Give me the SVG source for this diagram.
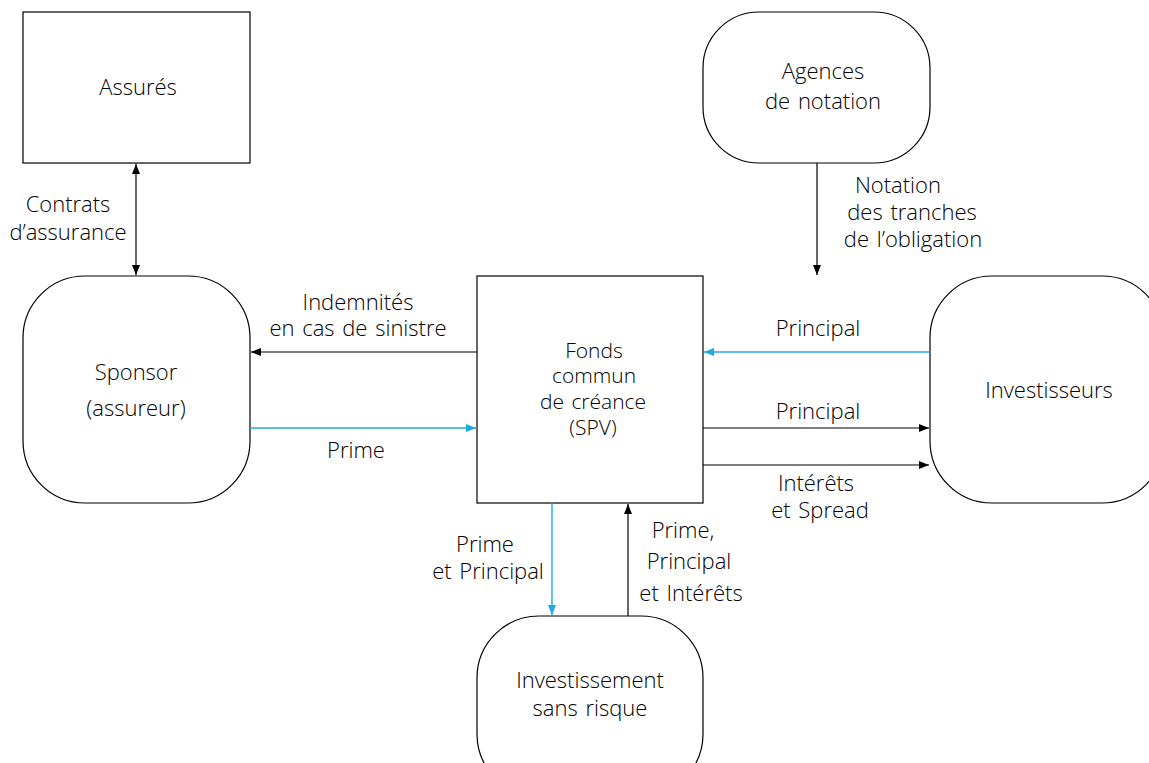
<svg xmlns="http://www.w3.org/2000/svg" width="1149" height="763" viewBox="0 0 1149 763">
<defs>
<marker id="ab" viewBox="0 0 10 8" refX="10" refY="4" markerWidth="10" markerHeight="8" markerUnits="userSpaceOnUse" orient="auto-start-reverse"><path d="M0,0 L10,4 L0,8 Z" fill="#000"/></marker>
<marker id="ac" viewBox="0 0 10 8" refX="10" refY="4" markerWidth="10" markerHeight="8" markerUnits="userSpaceOnUse" orient="auto"><path d="M0,0 L10,4 L0,8 Z" fill="#1fa9e6"/></marker>
<style>
.n{fill:#fff;stroke:#000;stroke-width:1.2}
.t{font-family:"Open Sans","Liberation Sans",sans-serif;font-weight:300;font-size:22px;word-spacing:2px;fill:#000;text-anchor:middle}
.s{font-size:21px}
.k{fill:none;stroke:#000;stroke-width:1.2}
.b{fill:none;stroke:#1fa9e6;stroke-width:1.4}
</style>
</defs>
<rect width="1149" height="763" fill="#fff"/>
<g id="assures"><rect class="n" x="23" y="12" width="227" height="151"/><text class="t" x="138" y="95">Assurés</text></g>
<g id="sponsor"><rect class="n" x="23" y="276" width="227" height="227" rx="62"/><text class="t" x="136" y="380">Sponsor</text><text class="t" x="136" y="416">(assureur)</text></g>
<g id="spv"><rect class="n" x="477" y="276" width="226" height="227"/><text class="t s" x="594" y="358">Fonds</text><text class="t s" x="594" y="383">commun</text><text class="t s" x="593" y="409">de créance</text><text class="t s" x="593" y="435">(SPV)</text></g>
<g id="agences"><rect class="n" x="703" y="12" width="227" height="151" rx="56"/><text class="t" x="823" y="79">Agences</text><text class="t" x="823" y="109">de notation</text></g>
<g id="investisseurs"><rect class="n" x="930" y="276" width="234" height="227" rx="62"/><text class="t" x="1049" y="398">Investisseurs</text></g>
<g id="sansrisque"><rect class="n" x="477" y="616" width="226" height="180" rx="62"/><text class="t" x="590" y="688">Investissement</text><text class="t" x="590" y="716">sans risque</text></g>
<g id="connectors">
<line class="k" x1="136" y1="164" x2="136" y2="275" marker-start="url(#ab)" marker-end="url(#ab)"/>
<line class="k" x1="477" y1="352" x2="251" y2="352" marker-end="url(#ab)"/>
<line class="b" x1="250" y1="428" x2="476" y2="428" marker-end="url(#ac)"/>
<line class="k" x1="817" y1="163" x2="817" y2="275" marker-end="url(#ab)"/>
<line class="b" x1="930" y1="352" x2="704" y2="352" marker-end="url(#ac)"/>
<line class="k" x1="703" y1="428" x2="929" y2="428" marker-end="url(#ab)"/>
<line class="k" x1="703" y1="465" x2="929" y2="465" marker-end="url(#ab)"/>
<line class="b" x1="552" y1="503" x2="552" y2="615" marker-end="url(#ac)"/>
<line class="k" x1="628" y1="616" x2="628" y2="504" marker-end="url(#ab)"/>
<text class="t" x="68" y="212">Contrats</text><text class="t" x="68" y="240">d’assurance</text>
<text class="t" x="358" y="310">Indemnités</text><text class="t" x="358" y="336">en cas de sinistre</text>
<text class="t" x="356" y="458">Prime</text>
<text class="t" x="898" y="193">Notation</text><text class="t" x="912" y="220">des tranches</text><text class="t" x="913" y="247">de l’obligation</text>
<text class="t" x="818" y="336">Principal</text>
<text class="t" x="818" y="419">Principal</text>
<text class="t" x="816" y="491">Intérêts</text><text class="t" x="820" y="518">et Spread</text>
<text class="t" x="485" y="552">Prime</text><text class="t" x="488" y="579">et Principal</text>
<text class="t" x="683" y="538">Prime,</text><text class="t" x="689" y="569">Principal</text><text class="t" x="691" y="601">et Intérêts</text>
</g>
</svg>
